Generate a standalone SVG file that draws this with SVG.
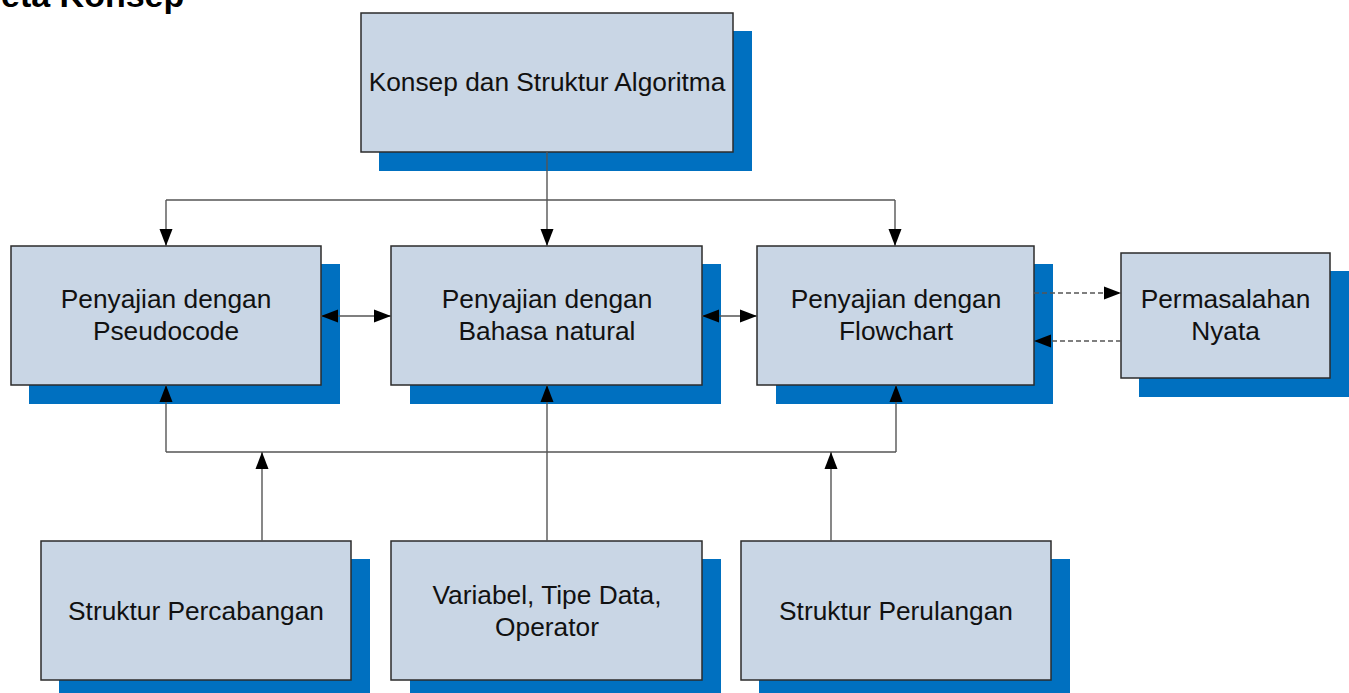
<svg xmlns="http://www.w3.org/2000/svg" width="1349" height="693" viewBox="0 0 1349 693">
<style>
.sh{fill:#0070C0}
.bx{fill:#C9D6E5;stroke:#2b2b2b;stroke-width:1.5}
.t{font-family:"Liberation Sans",Arial,sans-serif;font-size:26.3px;fill:#111;text-anchor:middle}
.ttl{font-family:"Liberation Sans",Arial,sans-serif;font-size:34px;font-weight:bold;fill:#000}
.c{fill:none;stroke:#555;stroke-width:1.4}
.d{fill:none;stroke:#555;stroke-width:1.4;stroke-dasharray:5 3}
</style>
<defs>
<marker id="ah" markerUnits="userSpaceOnUse" markerWidth="19" markerHeight="14" refX="17" refY="7" orient="auto-start-reverse">
<path d="M0,0.5 L17,7 L0,13.5 z" fill="#000"/>
</marker>
</defs>
<rect width="1349" height="693" fill="#fff"/>
<text class="ttl" x="1" y="7">eta Konsep</text>
<g id="n-konsep"><rect class="sh" x="379" y="31" width="373" height="140"/><rect class="bx" x="361" y="13" width="372" height="139"/><text class="t" x="547" y="91">Konsep dan Struktur Algoritma</text></g>
<g id="n-pseudo"><rect class="sh" x="29" y="264" width="311" height="140"/><rect class="bx" x="11" y="246" width="310" height="139"/><text class="t" x="166" y="308">Penyajian dengan</text><text class="t" x="166" y="340">Pseudocode</text></g>
<g id="n-bahasa"><rect class="sh" x="410" y="264" width="311" height="140"/><rect class="bx" x="391" y="246" width="311" height="139"/><text class="t" x="547" y="308">Penyajian dengan</text><text class="t" x="547" y="340">Bahasa natural</text></g>
<g id="n-flow"><rect class="sh" x="776" y="264" width="277" height="140"/><rect class="bx" x="757" y="246" width="277" height="139"/><text class="t" x="896" y="308">Penyajian dengan</text><text class="t" x="896" y="340">Flowchart</text></g>
<g id="n-masalah"><rect class="sh" x="1139" y="271" width="212" height="126"/><rect class="bx" x="1121" y="253" width="209" height="125"/><text class="t" x="1225.5" y="308">Permasalahan</text><text class="t" x="1225.5" y="340">Nyata</text></g>
<g id="n-cabang"><rect class="sh" x="59" y="559" width="311" height="140"/><rect class="bx" x="41" y="541" width="310" height="139"/><text class="t" x="196" y="620">Struktur Percabangan</text></g>
<g id="n-var"><rect class="sh" x="410" y="559" width="311" height="140"/><rect class="bx" x="391" y="541" width="311" height="139"/><text class="t" x="547" y="604">Variabel, Tipe Data,</text><text class="t" x="547" y="636">Operator</text></g>
<g id="n-ulang"><rect class="sh" x="759" y="559" width="311" height="140"/><rect class="bx" x="741" y="541" width="310" height="139"/><text class="t" x="896" y="620">Struktur Perulangan</text></g>
<g id="connectors">
<path class="c" d="M547,152 V246" marker-end="url(#ah)"/>
<path class="c" d="M166,200 H895"/>
<path class="c" d="M166,200 V246" marker-end="url(#ah)"/>
<path class="c" d="M895,200 V246" marker-end="url(#ah)"/>
<path class="c" d="M321,316 H391" marker-start="url(#ah)" marker-end="url(#ah)"/>
<path class="c" d="M702,316 H757" marker-start="url(#ah)" marker-end="url(#ah)"/>
<path class="d" d="M1034,293 H1121" marker-end="url(#ah)"/>
<path class="d" d="M1121,341 H1034" marker-end="url(#ah)"/>
<path class="c" d="M166,452 H896"/>
<path class="c" d="M166,452 V385" marker-end="url(#ah)"/>
<path class="c" d="M547,541 V385" marker-end="url(#ah)"/>
<path class="c" d="M896,452 V385" marker-end="url(#ah)"/>
<path class="c" d="M262,541 V452" marker-end="url(#ah)"/>
<path class="c" d="M831,541 V452" marker-end="url(#ah)"/>
</g>
</svg>
